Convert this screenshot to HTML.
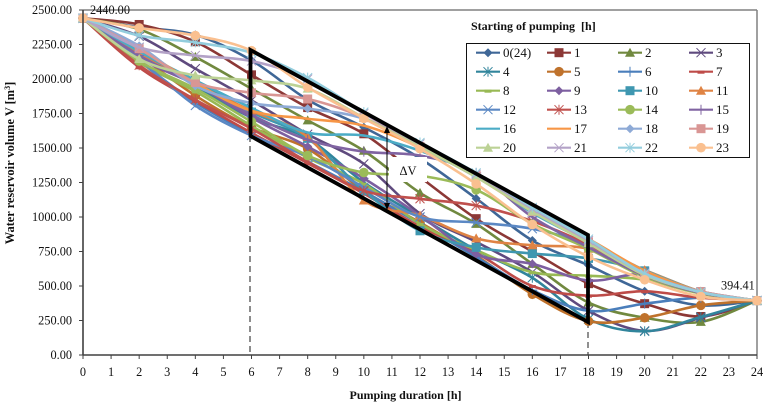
<!DOCTYPE html>
<html lang="en">
<head>
<meta charset="utf-8">
<title>Water reservoir volume vs pumping duration</title>
<style>
html,body{margin:0;padding:0;background:#fff;}
svg{display:block;font-family:"Liberation Serif",serif;}
text{fill:#111;}
</style>
</head>
<body>
<svg id="chart" xmlns="http://www.w3.org/2000/svg" width="768" height="407" viewBox="0 0 768 407">
  <rect x="0" y="0" width="768" height="407" fill="#fff"/>
  <g id="frame"></g>
  <g id="guides"></g>
  <g id="series"></g>
  <g id="axes"></g>
  <g id="annotations"></g>
  <text transform="translate(14,163) rotate(-90)" text-anchor="middle" font-size="12.4" font-weight="bold">Water reservoir volume V [m<tspan dy="-4" font-size="8">3</tspan><tspan dy="4">]</tspan></text>
  <text x="405.5" y="399" text-anchor="middle" font-size="12" font-weight="bold">Pumping duration [h]</text>
  <text x="471" y="30" font-size="12" font-weight="bold">Starting of pumping&#160; [h]</text>
  <rect x="466.5" y="43.5" width="283" height="114" fill="#fff" stroke="#111" stroke-width="1"/>
  <g id="legend"></g>
</svg>
<script>
// ---- chart data ----
const hours = [0, 2, 4, 6, 8, 10, 12, 14, 16, 18, 20, 22, 24];
const xTickLabels = [0, 1, 2, 3, 4, 5, 6, 7, 8, 9, 10, 11, 12, 13, 14, 15, 16, 17, 18, 19, 20, 21, 22, 23, 24];
const yTickLabels = [0, 250, 500, 750, 1000, 1250, 1500, 1750, 2000, 2250, 2500];
const seriesNames = ['0(24)', '1', '2', '3', '4', '5', '6', '7', '8', '9', '10', '11', '12', '13', '14', '15', '16', '17', '18', '19', '20', '21', '22', '23'];
const s0 = [2440, 2375, 2320, 2135, 1850, 1650, 1425, 1134, 830, 650, 462, 360, 394.41];
const s1 = [2440, 2395, 2270, 2030, 1793, 1603, 1290, 988, 750, 517, 372, 279, 394.41];
const s2 = [2440, 2360, 2160, 1930, 1700, 1480, 1175, 950, 660, 380, 270, 240, 394.41];
const s3 = [2440, 2310, 2075, 1845, 1600, 1385, 1025, 820, 600, 320, 175, 270, 394.41];
const s4 = [2440, 2230, 1950, 1720, 1570, 1250, 1000, 760, 560, 260, 172, 275, 394.41];
const s5 = [2440, 2170, 1880, 1650, 1495, 1190, 960, 720, 440, 245, 270, 360, 394.41];
const s6 = [2440, 2130, 1830, 1600, 1400, 1185, 950, 710, 470, 320, 372, 415, 394.41];
const s7 = [2440, 2085, 1840, 1610, 1390, 1170, 930, 740, 500, 430, 462, 415, 394.41];
const s8 = [2440, 2120, 1910, 1660, 1430, 1240, 950, 760, 600, 575, 545, 450, 394.41];
const s9 = [2440, 2150, 1960, 1720, 1510, 1280, 1010, 730, 660, 540, 585, 460, 394.41];
const s10 = [2440, 2190, 1990, 1760, 1570, 1190, 900, 780, 735, 700, 610, 460, 394.41];
const s11 = [2440, 2180, 1960, 1770, 1580, 1120, 1010, 845, 795, 770, 615, 460, 394.41];
const s12 = [2440, 2140, 1808, 1590, 1440, 1215, 1000, 960, 915, 800, 600, 455, 394.41];
const s13 = [2440, 2100, 1850, 1640, 1400, 1190, 1132, 1083, 970, 800, 590, 450, 394.41];
const s14 = [2440, 2130, 1930, 1690, 1445, 1322, 1300, 1197, 950, 770, 565, 445, 394.41];
const s15 = [2440, 2170, 1960, 1740, 1560, 1474, 1445, 1320, 1000, 780, 575, 450, 394.41];
const s16 = [2440, 2200, 1990, 1790, 1612, 1590, 1480, 1300, 1030, 820, 615, 460, 394.41];
const s17 = [2440, 2220, 1970, 1770, 1712, 1662, 1504, 1290, 1040, 840, 610, 460, 394.41];
const s18 = [2440, 2240, 1950, 1825, 1785, 1712, 1510, 1290, 1050, 830, 590, 460, 394.41];
const s19 = [2440, 2220, 1975, 1900, 1855, 1720, 1510, 1300, 1040, 820, 580, 460, 394.41];
const s20 = [2440, 2145, 2025, 1990, 1930, 1720, 1510, 1290, 1040, 810, 580, 455, 394.41];
const s21 = [2440, 2230, 2170, 2130, 2000, 1750, 1530, 1310, 1060, 830, 590, 455, 394.41];
const s22 = [2440, 2315, 2265, 2190, 2010, 1760, 1540, 1320, 1070, 840, 590, 455, 394.41];
const s23 = [2440, 2370, 2315, 2205, 1940, 1715, 1495, 1240, 945, 712, 545, 424, 394.41];
const seriesValues = [s0, s1, s2, s3, s4, s5, s6, s7, s8, s9, s10, s11, s12, s13, s14, s15, s16, s17, s18, s19, s20, s21, s22, s23];
const startLabel = '2440.00';
const startValue = 2440;
const endLabel = '394.41';
const endValue = 394.41;

// ---- styling ----
const seriesColors = ['#3f6797', '#8c3836', '#71893f', '#5f4a7e', '#31859c', '#bf722c', '#4a7ebb', '#be4b48', '#98b954', '#7d5fa0', '#3f97b0', '#df8344', '#5b88c4', '#c0504d', '#9bbb59', '#8064a2', '#4bacc6', '#f79646', '#8eaad6', '#d99694', '#bcd295', '#b3a2c7', '#93cddd', '#fac090'];
const markerKinds = ['diamond', 'square', 'triangle', 'cross', 'star', 'circle', 'plus', 'dash', 'dash', 'diamond', 'square', 'triangle', 'cross', 'star', 'circle', 'plus', 'none', 'none', 'diamond', 'square', 'triangle', 'cross', 'star', 'circle'];

// ---- scales ----
const plotLeft = 83, plotRight = 757, plotTop = 10, plotBottom = 355;
const xMax = 24, yMax = 2500;
function xScale(h) { return plotLeft + (plotRight - plotLeft) * h / xMax; }
function yScale(v) { return plotBottom - (plotBottom - plotTop) * v / yMax; }

const NS = 'http://www.w3.org/2000/svg';
function mk(tag, attrs, parent) {
  const el = document.createElementNS(NS, tag);
  for (const k in attrs) el.setAttribute(k, attrs[k]);
  if (parent) parent.appendChild(el);
  return el;
}

function smoothPath(pts) {
  let d = 'M' + pts[0][0].toFixed(2) + ' ' + pts[0][1].toFixed(2);
  for (let i = 0; i < pts.length - 1; i++) {
    const p0 = pts[Math.max(i - 1, 0)], p1 = pts[i], p2 = pts[i + 1], p3 = pts[Math.min(i + 2, pts.length - 1)];
    const c1x = p1[0] + (p2[0] - p0[0]) / 6, c1y = p1[1] + (p2[1] - p0[1]) / 6;
    const c2x = p2[0] - (p3[0] - p1[0]) / 6, c2y = p2[1] - (p3[1] - p1[1]) / 6;
    d += 'C' + c1x.toFixed(2) + ' ' + c1y.toFixed(2) + ' ' + c2x.toFixed(2) + ' ' + c2y.toFixed(2) + ' ' + p2[0].toFixed(2) + ' ' + p2[1].toFixed(2);
  }
  return d;
}

function drawMarker(kind, x, y, color, parent) {
  let el = null;
  if (kind === 'diamond') {
    el = mk('polygon', {points: [x, y - 4.5, x + 4.5, y, x, y + 4.5, x - 4.5, y].join(' '), fill: color}, parent);
  } else if (kind === 'square') {
    el = mk('rect', {x: x - 4.5, y: y - 4.5, width: 9, height: 9, fill: color}, parent);
  } else if (kind === 'triangle') {
    el = mk('polygon', {points: [x, y - 5, x + 5, y + 4, x - 5, y + 4].join(' '), fill: color}, parent);
  } else if (kind === 'circle') {
    el = mk('circle', {cx: x, cy: y, r: 4.8, fill: color}, parent);
  } else if (kind === 'cross') {
    el = mk('path', {d: 'M' + (x - 4.5) + ' ' + (y - 4.5) + 'L' + (x + 4.5) + ' ' + (y + 4.5) + 'M' + (x - 4.5) + ' ' + (y + 4.5) + 'L' + (x + 4.5) + ' ' + (y - 4.5), stroke: color, 'stroke-width': 1, fill: 'none'}, parent);
  } else if (kind === 'star') {
    el = mk('path', {d: 'M' + (x - 4.5) + ' ' + (y - 4.5) + 'L' + (x + 4.5) + ' ' + (y + 4.5) + 'M' + (x - 4.5) + ' ' + (y + 4.5) + 'L' + (x + 4.5) + ' ' + (y - 4.5) + 'M' + x + ' ' + (y - 5) + 'L' + x + ' ' + (y + 5), stroke: color, 'stroke-width': 1, fill: 'none'}, parent);
  } else if (kind === 'plus') {
    el = mk('path', {d: 'M' + (x - 5) + ' ' + y + 'L' + (x + 5) + ' ' + y + 'M' + x + ' ' + (y - 5) + 'L' + x + ' ' + (y + 5), stroke: color, 'stroke-width': 1, fill: 'none'}, parent);
  } else if (kind === 'dash') {
    el = mk('rect', {x: x - 3.5, y: y - 1, width: 7, height: 3, fill: color}, parent);
  }
  return el;
}

// ---- frame ----
const frame = document.getElementById('frame');
const frameTop = mk('line', {x1: plotLeft, y1: plotTop, x2: plotRight, y2: plotTop, stroke: '#808080', 'stroke-width': 1.5}, frame);


const frameRight = mk('line', {x1: plotRight, y1: plotTop, x2: plotRight, y2: plotBottom, stroke: '#808080', 'stroke-width': 1.5}, frame);



// ---- guides ----
const guides = document.getElementById('guides');
const guide6 = mk('line', {x1: 250, y1: 136, x2: 250, y2: plotBottom, stroke: '#7f7f7f', 'stroke-width': 1.8, 'stroke-dasharray': '6 4'}, guides);


const guide18 = mk('line', {x1: 588, y1: 322, x2: 588, y2: plotBottom, stroke: '#222', 'stroke-width': 1, 'stroke-dasharray': '6 4'}, guides);



// ---- series ----
const seriesGroup = document.getElementById('series');
seriesValues.forEach(function (vals, si) {
  const g = mk('g', {}, seriesGroup);
  
  
  const pts = vals.map(function (v, i) { return [xScale(hours[i]), yScale(v)]; });
  const line = mk('path', {d: smoothPath(pts), fill: 'none', stroke: seriesColors[si], 'stroke-width': 2.6, 'stroke-linejoin': 'round'}, g);
  
  
  pts.forEach(function (p, i) {
    const m = drawMarker(markerKinds[si], p[0], p[1], seriesColors[si], g);
    if (m) {
      
      
    }
  });
});

// ---- axes ----
const axes = document.getElementById('axes');
const yAxis = mk('line', {x1: plotLeft, y1: plotTop, x2: plotLeft, y2: plotBottom + 0.5, stroke: '#404040', 'stroke-width': 1.6}, axes);


const xAxis = mk('line', {x1: plotLeft, y1: plotBottom, x2: plotRight, y2: plotBottom, stroke: '#404040', 'stroke-width': 1.6}, axes);


yTickLabels.forEach(function (v) {
  const y = yScale(v);
  const t = mk('line', {x1: plotLeft - 4, y1: y, x2: plotLeft, y2: y, stroke: '#404040', 'stroke-width': 1}, axes);
  
  
  const l = mk('text', {x: 72, y: y + 4, 'text-anchor': 'end', 'font-size': 12.3}, axes);
  
  
  l.textContent = v.toFixed(2);
});
xTickLabels.forEach(function (h) {
  const x = xScale(h);
  const t = mk('line', {x1: x, y1: plotBottom, x2: x, y2: plotBottom + 4, stroke: '#404040', 'stroke-width': 1}, axes);
  
  
  const l = mk('text', {x: x, y: 376, 'text-anchor': 'middle', 'font-size': 12.3}, axes);
  
  
  l.textContent = h;
});

// ---- annotations ----
const ann = document.getElementById('annotations');
const band = mk('polygon', {points: '250.5,50 588,235 588,322 250.5,136', fill: 'none', stroke: '#000', 'stroke-width': 3.8, 'stroke-linejoin': 'miter'}, ann);


const dvLine = mk('line', {x1: 387, y1: 132, x2: 387, y2: 204, stroke: '#000', 'stroke-width': 1}, ann);


const dvUp = mk('polygon', {points: '387,126 384,133 390,133', fill: '#000'}, ann);


const dvDown = mk('polygon', {points: '387,210 384,203 390,203', fill: '#000'}, ann);


const dvBox = mk('rect', {x: 389, y: 157, width: 38, height: 25, fill: '#fff'}, ann);


const dvText = mk('text', {x: 408, y: 175, 'text-anchor': 'middle', 'font-size': 12.5}, ann);


dvText.textContent = '\u0394V';
const startText = mk('text', {x: 90, y: yScale(startValue) - 4.5, 'font-size': 12.3}, ann);


startText.textContent = startLabel;
const endText = mk('text', {x: 721, y: yScale(endValue) - 11, 'font-size': 12.3}, ann);


endText.textContent = endLabel;

// ---- legend ----
const legend = document.getElementById('legend');
seriesNames.forEach(function (name, i) {
  const col = i % 4, row = Math.floor(i / 4);
  const x0 = 476 + col * 71, y0 = 52.7 + row * 19;
  const g = mk('g', {}, legend);
  
  
  const sw = mk('line', {x1: x0, y1: y0, x2: x0 + 24, y2: y0, stroke: seriesColors[i], 'stroke-width': 2.2}, g);
  
  
  const m = drawMarker(markerKinds[i], x0 + 12, y0, seriesColors[i], g);
  if (m) {
    
    
  }
  const t = mk('text', {x: x0 + 27, y: y0 + 4.5, 'font-size': 13}, g);
  
  
  t.textContent = name;
});
</script>
</body>
</html>
